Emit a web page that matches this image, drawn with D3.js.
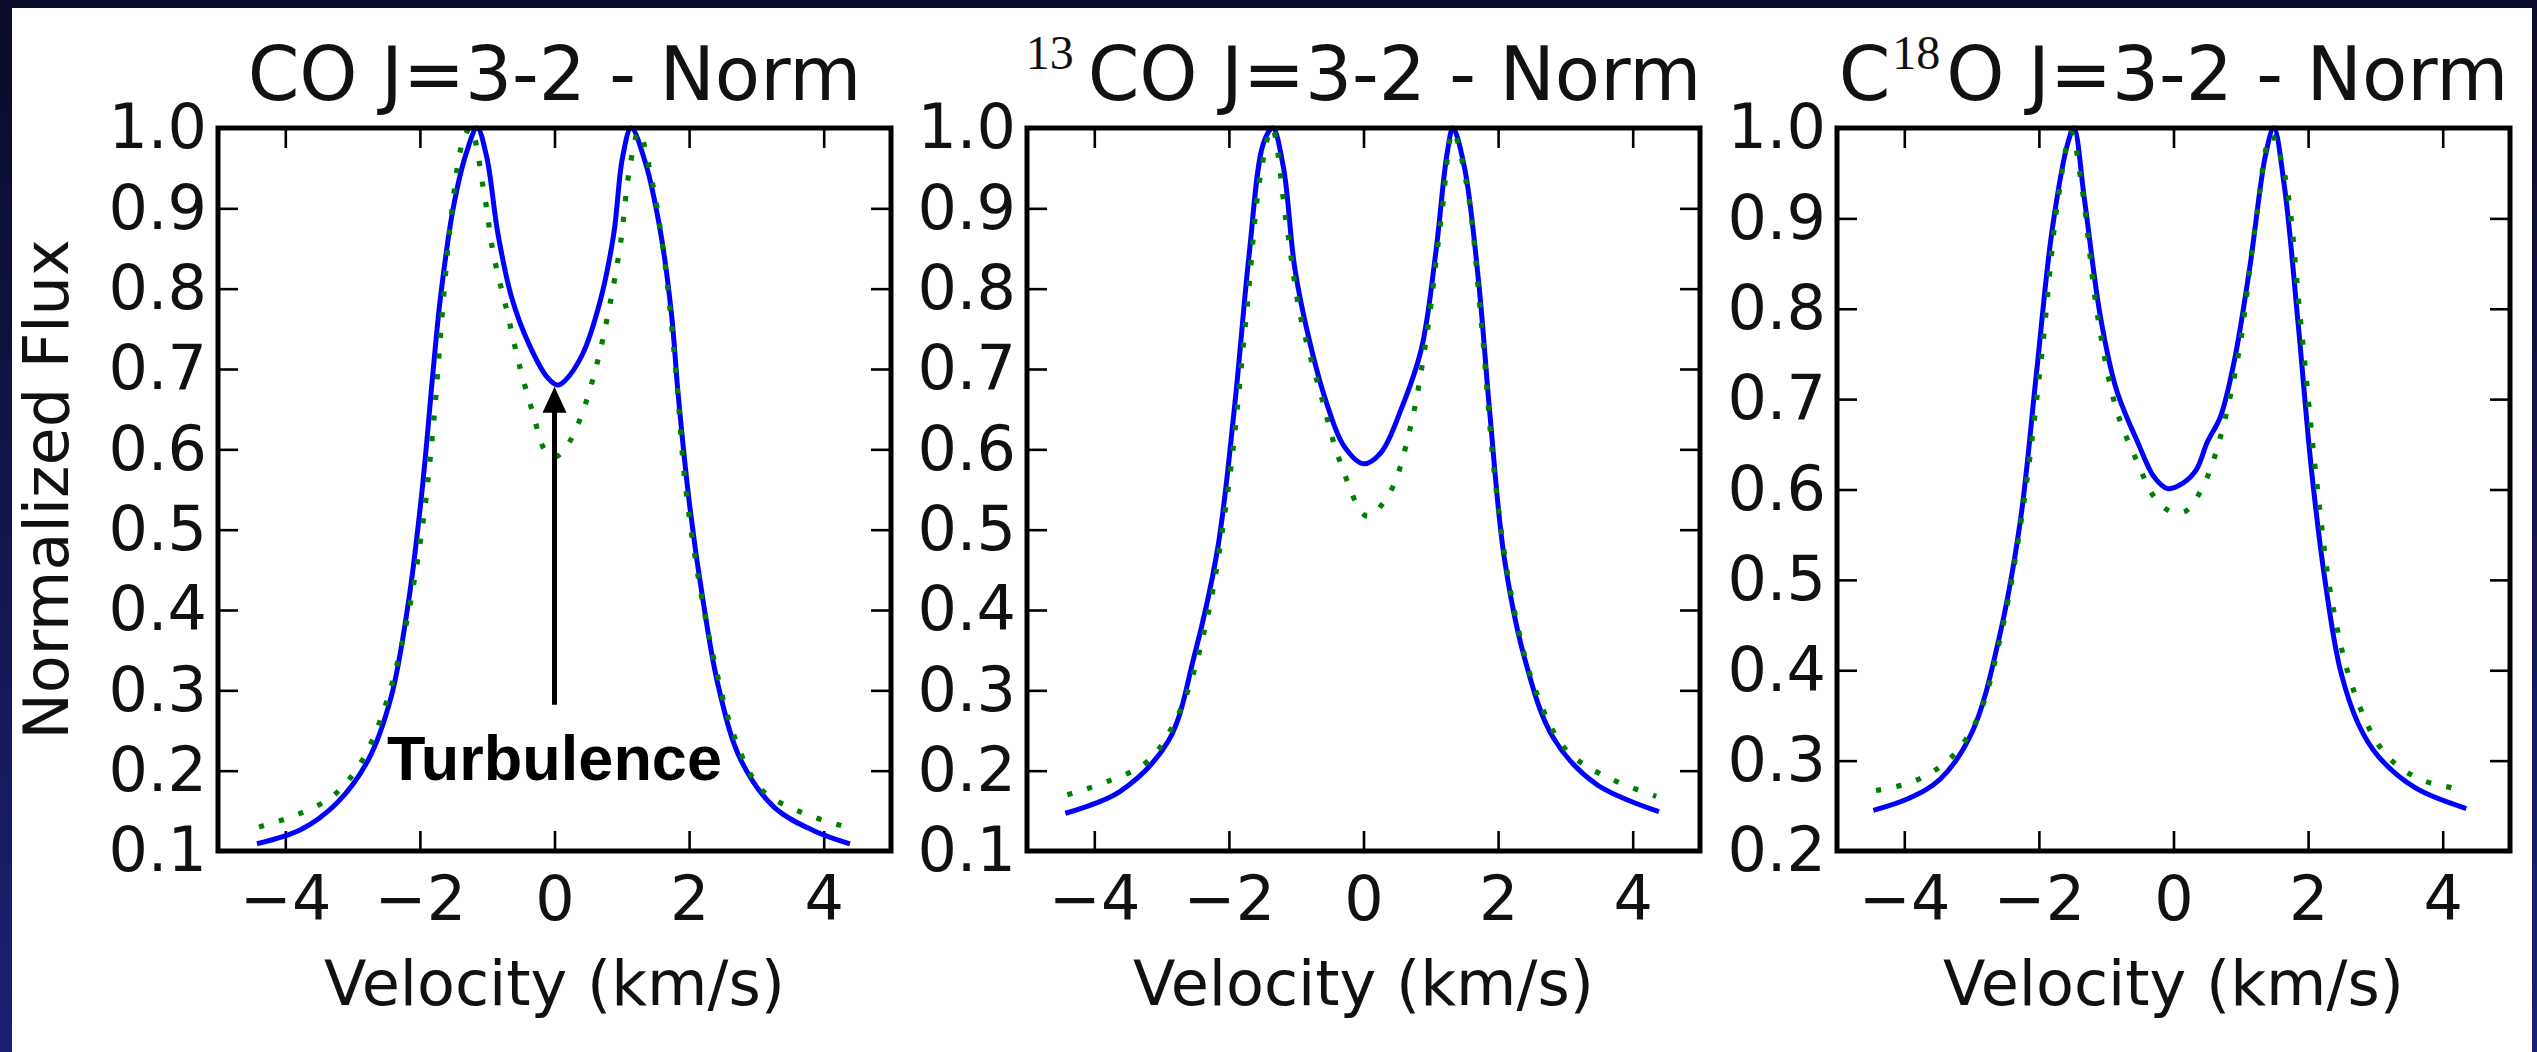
<!DOCTYPE html>
<html>
<head>
<meta charset="utf-8">
<script src="https://cdn.jsdelivr.net/npm/d3@7"></script>
<style>
  html, body { margin: 0; padding: 0; background: #0b0d2c; }
  svg { display: block; }
</style>
</head>
<body>
<svg id="chart" width="2537" height="1052"></svg>
<script>
// [velocity (km/s), normalized flux]
const coSolid = [[-4.42,0.109],[-3.76,0.127],[-3.23,0.160],[-2.77,0.213],[-2.43,0.291],[-2.17,0.410],[-1.97,0.547],[-1.80,0.701],[-1.70,0.785],[-1.51,0.898],[-1.31,0.969],[-1.15,1.0],[-1.01,0.965],[-0.84,0.868],[-0.64,0.790],[-0.38,0.731],[-0.11,0.690],[0.05,0.680],[0.15,0.685],[0.42,0.719],[0.68,0.785],[0.88,0.868],[1.01,0.963],[1.14,1.0],[1.35,0.957],[1.58,0.868],[1.74,0.767],[1.84,0.666],[2.01,0.529],[2.21,0.410],[2.44,0.303],[2.77,0.213],[3.27,0.154],[3.86,0.125],[4.39,0.109]];
const coDotted = [[-4.39,0.130],[-3.83,0.145],[-3.30,0.168],[-2.90,0.207],[-2.57,0.267],[-2.24,0.368],[-1.97,0.499],[-1.80,0.630],[-1.67,0.767],[-1.54,0.886],[-1.37,0.981],[-1.25,1.0],[-1.04,0.916],[-0.91,0.844],[-0.71,0.773],[-0.51,0.701],[-0.31,0.642],[-0.15,0.600],[0.0,0.590],[0.15,0.600],[0.29,0.620],[0.45,0.654],[0.65,0.713],[0.82,0.779],[0.98,0.856],[1.11,0.946],[1.25,0.995],[1.45,0.934],[1.64,0.832],[1.81,0.690],[1.94,0.559],[2.14,0.439],[2.37,0.338],[2.67,0.243],[3.07,0.177],[3.67,0.148],[4.33,0.130]];

const co13Solid = [[-4.43,0.147],[-3.62,0.174],[-2.90,0.237],[-2.52,0.341],[-2.17,0.475],[-1.91,0.658],[-1.70,0.842],[-1.49,0.980],[-1.35,1.0],[-1.19,0.951],[-1.02,0.825],[-0.80,0.734],[-0.55,0.658],[-0.29,0.604],[0.0,0.582],[0.26,0.596],[0.56,0.650],[0.86,0.725],[1.07,0.842],[1.24,0.967],[1.33,1.0],[1.50,0.951],[1.71,0.809],[1.88,0.642],[2.09,0.466],[2.39,0.341],[2.82,0.241],[3.46,0.183],[4.39,0.149]];
const co13Dotted = [[-4.40,0.170],[-3.79,0.187],[-3.20,0.212],[-2.73,0.274],[-2.34,0.383],[-2.00,0.558],[-1.75,0.759],[-1.53,0.942],[-1.36,1.0],[-1.15,0.884],[-0.94,0.767],[-0.63,0.667],[-0.34,0.583],[0.05,0.517],[0.39,0.546],[0.69,0.625],[0.94,0.742],[1.16,0.892],[1.33,0.995],[1.54,0.926],[1.75,0.759],[1.96,0.558],[2.22,0.408],[2.56,0.299],[2.99,0.228],[3.54,0.195],[4.35,0.168]];

const c18oSolid = [[-4.46,0.245],[-3.94,0.258],[-3.46,0.280],[-2.99,0.332],[-2.59,0.436],[-2.28,0.563],[-2.04,0.726],[-1.80,0.889],[-1.56,0.986],[-1.48,1.0],[-1.32,0.919],[-1.09,0.793],[-0.85,0.711],[-0.53,0.652],[-0.29,0.614],[-0.09,0.601],[0.14,0.607],[0.34,0.622],[0.50,0.652],[0.70,0.681],[0.90,0.741],[1.13,0.844],[1.37,0.971],[1.49,1.0],[1.65,0.934],[1.85,0.785],[2.05,0.622],[2.25,0.500],[2.48,0.400],[2.75,0.340],[3.04,0.305],[3.59,0.270],[4.35,0.247]];
const c18oDotted = [[-4.42,0.267],[-3.86,0.277],[-3.31,0.303],[-2.91,0.347],[-2.55,0.444],[-2.24,0.577],[-1.96,0.748],[-1.72,0.919],[-1.52,0.995],[-1.36,0.934],[-1.13,0.793],[-0.85,0.689],[-0.53,0.629],[-0.29,0.592],[-0.05,0.576],[0.18,0.576],[0.46,0.607],[0.70,0.659],[0.98,0.756],[1.21,0.889],[1.45,0.992],[1.65,0.949],[1.89,0.785],[2.13,0.607],[2.36,0.474],[2.68,0.377],[3.12,0.310],[3.64,0.280],[4.30,0.268]];

const xTicks = [-4, -2, 0, 2, 4];
const yTicksCO = [0.1, 0.2, 0.3, 0.4, 0.5, 0.6, 0.7, 0.8, 0.9, 1.0];
const yTicksC18O = [0.2, 0.3, 0.4, 0.5, 0.6, 0.7, 0.8, 0.9, 1.0];

// arrow annotation in panel 1: x, tail y, head y, text baseline y
const turbulence = [0, 0.282, 0.678, 0.188];

// layout
const W = 2537, H = 1052;
const plotTop = 128, plotH = 723, plotW = 673;
const panelLeft = [218, 1027, 1837];
const tickLen = 20;
const font = '"DejaVu Sans", sans-serif';

// title pieces: [text, superscript?, extra gap before]
const panels = [
  { title: [['CO J=3-2 - Norm', false, 0]], solid: coSolid, dotted: coDotted, yDomain: [0.1, 1.0], yTicks: yTicksCO },
  { title: [['13', true, 0], ['CO J=3-2 - Norm', false, 14]], solid: co13Solid, dotted: co13Dotted, yDomain: [0.1, 1.0], yTicks: yTicksCO },
  { title: [['C', false, 0], ['18', true, 2], ['O J=3-2 - Norm', false, 6]], solid: c18oSolid, dotted: c18oDotted, yDomain: [0.2, 1.0], yTicks: yTicksC18O }
];

const svg = d3.select('#chart');

// slide background + white figure area
const defs = svg.append('defs');
const grad = defs.append('linearGradient').attr('id', 'bg')
  .attr('x1', 0).attr('y1', 0).attr('x2', 0).attr('y2', 1);
grad.append('stop').attr('offset', '0%').attr('stop-color', '#0a0c29');
grad.append('stop').attr('offset', '100%').attr('stop-color', '#1b1f72');
svg.append('rect').attr('width', W).attr('height', H).attr('fill', 'url(#bg)');
svg.append('rect').attr('x', 12).attr('y', 8).attr('width', 2520).attr('height', H - 8).attr('fill', '#ffffff');

function styleAxis(sel, showText) {
  sel.select('.domain').remove();
  sel.selectAll('.tick line').attr('stroke', '#000').attr('stroke-width', 2.6);
  sel.attr('font-family', font).attr('font-size', 62);
  sel.selectAll('.tick text').attr('fill', '#111');
  if (!showText) sel.selectAll('.tick text').remove();
}

panels.forEach((p, i) => {
  const x = d3.scaleLinear().domain([-5, 5]).range([0, plotW]);
  const y = d3.scaleLinear().domain(p.yDomain).range([plotH, 0]);
  const g = svg.append('g').attr('transform', `translate(${panelLeft[i]},${plotTop})`);

  // ticks on all four sides, pointing inward
  g.append('g').attr('transform', `translate(0,${plotH})`)
    .call(d3.axisBottom(x).tickValues(xTicks).tickFormat(d3.format('d'))
      .tickSizeInner(-tickLen).tickSizeOuter(0).tickPadding(25))
    .call(s => styleAxis(s, true));
  g.append('g')
    .call(d3.axisTop(x).tickValues(xTicks).tickSizeInner(-tickLen).tickSizeOuter(0))
    .call(s => styleAxis(s, false));
  g.append('g')
    .call(d3.axisLeft(y).tickValues(p.yTicks).tickFormat(d3.format('.1f'))
      .tickSizeInner(-tickLen).tickSizeOuter(0).tickPadding(11))
    .call(s => styleAxis(s, true));
  g.append('g').attr('transform', `translate(${plotW},0)`)
    .call(d3.axisRight(y).tickValues(p.yTicks).tickSizeInner(-tickLen).tickSizeOuter(0))
    .call(s => styleAxis(s, false));

  const line = d3.line()
    .x(d => x(d[0]))
    .y(d => y(d[1]))
    .curve(d3.curveCatmullRom.alpha(0.5));

  g.append('path').datum(p.solid)
    .attr('d', line)
    .attr('fill', 'none')
    .attr('stroke', '#0000ff')
    .attr('stroke-width', 5)
    .attr('stroke-linejoin', 'round');

  g.append('path').datum(p.dotted)
    .attr('d', line)
    .attr('fill', 'none')
    .attr('stroke', '#008000')
    .attr('stroke-width', 5.2)
    .attr('stroke-dasharray', '5.2,15.5');

  // frame
  g.append('rect')
    .attr('width', plotW).attr('height', plotH)
    .attr('fill', 'none').attr('stroke', '#000').attr('stroke-width', 5);

  // title with superscripts
  const t = g.append('text')
    .attr('x', plotW / 2).attr('y', -28)
    .attr('text-anchor', 'middle')
    .attr('font-family', font).attr('font-size', 74).attr('fill', '#111');
  let raised = false;
  p.title.forEach(([str, sup, gap]) => {
    const ts = t.append('tspan').text(str).attr('dx', gap);
    if (sup) {
      ts.attr('font-family', '"Liberation Serif", "DejaVu Serif", serif')
        .attr('font-size', 48).attr('dy', -31);
      raised = true;
    } else if (raised) {
      ts.attr('dy', 31);
      raised = false;
    }
  });

  // x label
  g.append('text')
    .attr('x', plotW / 2).attr('y', 877)
    .attr('text-anchor', 'middle')
    .attr('font-family', font).attr('font-size', 62).attr('fill', '#111')
    .text('Velocity (km/s)');

  if (i === 0) {
    g.append('text')
      .attr('transform', `translate(${68 - panelLeft[0]},${plotH / 2}) rotate(-90)`)
      .attr('text-anchor', 'middle')
      .attr('font-family', font).attr('font-size', 62).attr('fill', '#111')
      .text('Normalized Flux');

    // turbulence annotation
    const ax = x(turbulence[0]);
    const tail = y(turbulence[1]);
    const head = y(turbulence[2]);
    const headLen = 26, headHalf = 12;
    g.append('line')
      .attr('x1', ax).attr('x2', ax)
      .attr('y1', tail).attr('y2', head + headLen - 2)
      .attr('stroke', '#000').attr('stroke-width', 5);
    g.append('path')
      .attr('d', `M${ax},${head} L${ax - headHalf},${head + headLen} L${ax + headHalf},${head + headLen} Z`)
      .attr('fill', '#000');
    g.append('text')
      .attr('x', ax).attr('y', y(turbulence[3]))
      .attr('text-anchor', 'middle')
      .attr('font-family', '"Liberation Sans", Arial, sans-serif')
      .attr('font-weight', 'bold').attr('font-size', 63).attr('fill', '#000')
      .text('Turbulence');
  }
});
</script>
</body>
</html>
